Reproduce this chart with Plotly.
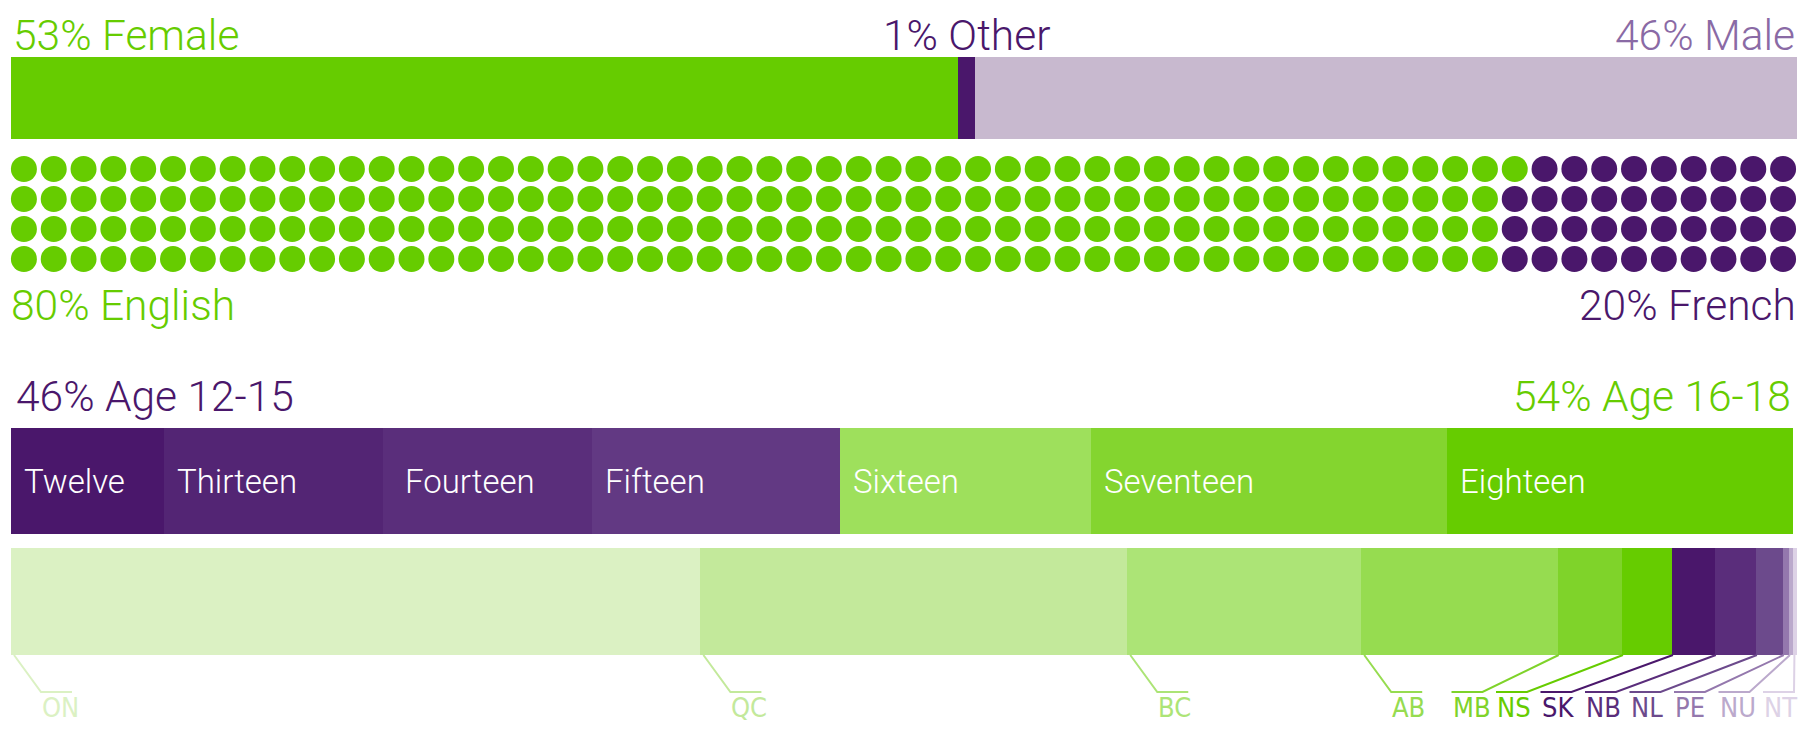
import plotly.graph_objects as go

W, H = 1798, 735

# ---------------- data ----------------
gender_labels = ["Female", "Other", "Male"]
gender_values = [53, 1, 46]
gender_texts = ["53% Female", "1% Other", "46% Male"]

language_labels = ["English", "French"]
language_pct = [80, 20]
language_dots = [201, 39]          # dots as drawn in the waffle
waffle_rows = 4

age_labels = ["Twelve", "Thirteen", "Fourteen", "Fifteen", "Sixteen", "Seventeen", "Eighteen"]
age_values = [8.6, 12.3, 11.7, 13.9, 14.1, 20.0, 19.4]
age_group_texts = ["46% Age 12-15", "54% Age 16-18"]

prov_labels = ["ON", "QC", "BC", "AB", "MB", "NS", "SK", "NB", "NL", "PE", "NU", "NT"]
prov_values = [38.6, 23.9, 13.1, 11.0, 3.6, 2.8, 2.4, 2.3, 1.5, 0.35, 0.25, 0.2]

# ---------------- styles ----------------
GREEN = "#66cc00"
PURPLE = "#4a176b"
gender_colors = [GREEN, PURPLE, "#c8b9cf"]
gender_text_colors = [GREEN, PURPLE, "#8a6aa5"]
language_colors = [GREEN, PURPLE]
age_colors = ["#4a176b", "#532574", "#5a2e7b", "#623983", "#9ee05c", "#84d52f", "#66cc00"]
age_text_pad = [11, 11, 20, 11, 11, 11, 11]
age_group_colors = [PURPLE, GREEN]
prov_colors = ["#dbf1c3", "#c3e99b", "#ace476", "#96dc50", "#7fd32a", "#66cc00",
               "#4a176b", "#5a2d7b", "#6c4a8c", "#9478ad", "#bba9cc", "#ddd2e6"]

MAIN_FONT = "Roboto, 'Open Sans', sans-serif"
COND_FONT = "'DejaVu Sans Condensed', 'Liberation Sans Narrow', Roboto, sans-serif"
COND_SIZE = 27


def fx(px):
    return px / W


def fy(py):
    return 1 - py / H


# pixel boxes of the four panels
G_X, G_Y = (11, 1797), (57, 139)
D_X, D_Y = (9, 1798), (154, 274)
A_X, A_Y = (11, 1793), (428, 534)
P_X, P_Y = (11, 1797), (548, 655)

fig = go.Figure()

# gender stacked bar
for lab, v, c in zip(gender_labels, gender_values, gender_colors):
    fig.add_trace(go.Bar(x=[v], y=[0], orientation="h", name=lab, marker=dict(color=c, line=dict(width=0)),
                         xaxis="x", yaxis="y", hoverinfo="skip"))

# language waffle
n_cols = sum(language_dots) // waffle_rows
idx = 0
for lab, n, c in zip(language_labels, language_dots, language_colors):
    xs, ys = [], []
    for _ in range(n):
        xs.append(idx // waffle_rows)
        ys.append(idx % waffle_rows)
        idx += 1
    fig.add_trace(go.Scatter(x=xs, y=ys, mode="markers", name=lab,
                             marker=dict(color=c, size=26, line=dict(width=0)),
                             xaxis="x2", yaxis="y2", hoverinfo="skip"))

# age stacked bar
for lab, v, c in zip(age_labels, age_values, age_colors):
    fig.add_trace(go.Bar(x=[v], y=[0], orientation="h", name=lab, marker=dict(color=c, line=dict(width=0)),
                         xaxis="x3", yaxis="y3", hoverinfo="skip"))

# province stacked bar
for lab, v, c in zip(prov_labels, prov_values, prov_colors):
    fig.add_trace(go.Bar(x=[v], y=[0], orientation="h", name=lab, marker=dict(color=c, line=dict(width=0)),
                         xaxis="x4", yaxis="y4", hoverinfo="skip"))

ax_common = dict(visible=False, fixedrange=True)
fig.update_layout(
    xaxis=dict(domain=[fx(G_X[0]), fx(G_X[1])], range=[0, sum(gender_values)], anchor="y", **ax_common),
    yaxis=dict(domain=[fy(G_Y[1]), fy(G_Y[0])], range=[-0.5, 0.5], anchor="x", **ax_common),
    xaxis2=dict(domain=[fx(D_X[0]), fx(D_X[1])], range=[-0.5, n_cols - 0.5], anchor="y2", **ax_common),
    yaxis2=dict(domain=[fy(D_Y[1]), fy(D_Y[0])], range=[waffle_rows - 0.5, -0.5], anchor="x2", **ax_common),
    xaxis3=dict(domain=[fx(A_X[0]), fx(A_X[1])], range=[0, sum(age_values)], anchor="y3", **ax_common),
    yaxis3=dict(domain=[fy(A_Y[1]), fy(A_Y[0])], range=[-0.5, 0.5], anchor="x3", **ax_common),
    xaxis4=dict(domain=[fx(P_X[0]), fx(P_X[1])], range=[0, sum(prov_values)], anchor="y4", **ax_common),
    yaxis4=dict(domain=[fy(P_Y[1]), fy(P_Y[0])], range=[-0.5, 0.5], anchor="x4", **ax_common),
)

ann = []


def big_label(text, xref, x, xanchor, baseline_px, color, size=42.5, xshift=0):
    descent = 0.244 * size + 1
    ann.append(dict(text=text, xref=xref, x=x, xanchor=xanchor, xshift=xshift, yref="paper",
                    y=fy(baseline_px + descent), yanchor="bottom", showarrow=False,
                    font=dict(family=MAIN_FONT, size=size, color=color, weight=300)))


# gender labels
big_label(gender_texts[0], "x", 0, "left", 51, gender_text_colors[0])
big_label(gender_texts[1], "x", gender_values[0] + gender_values[1] / 2, "center", 51, gender_text_colors[1])
big_label(gender_texts[2], "x", sum(gender_values), "right", 51, gender_text_colors[2])

# language labels
big_label(f"{language_pct[0]}% {language_labels[0]}", "x2", -0.5, "left", 321, language_colors[0])
big_label(f"{language_pct[1]}% {language_labels[1]}", "x2", n_cols - 0.5, "right", 321, language_colors[1])

# age group labels
big_label(age_group_texts[0], "x3", 0, "left", 412, age_group_colors[0], xshift=3)
big_label(age_group_texts[1], "x3", sum(age_values), "right", 412, age_group_colors[1])

# age segment names
cum = 0
for lab, v, pad in zip(age_labels, age_values, age_text_pad):
    ann.append(dict(text=lab, xref="x3", x=cum, xanchor="left", xshift=pad, yref="y3", y=0, yanchor="middle",
                    showarrow=False, font=dict(family=MAIN_FONT, size=33, color="white", weight=300)))
    cum += v

# province leaders + labels
shapes = []
total = sum(prov_values)
p_w = P_X[1] - P_X[0]
line_top, line_y = P_Y[1], 692
label_w = 31
slot = 44.5
small = [i for i, v in enumerate(prov_values) if v / total * p_w < 100]
cum = 0
for i, (lab, v, c) in enumerate(zip(prov_labels, prov_values, prov_colors)):
    seg_px = P_X[0] + cum / total * p_w
    if i in small:
        k = small.index(i)
        left = P_X[1] - 3 - label_w - (len(small) - 1 - k) * slot
        right = left + label_w
        path = f"M{fx(seg_px + 1)},{fy(line_top)} L{fx(right)},{fy(line_y)} L{fx(left)},{fy(line_y)}"
    else:
        left = seg_px + 30
        right = left + label_w
        path = f"M{fx(seg_px + 3)},{fy(line_top)} L{fx(left)},{fy(line_y)} L{fx(right)},{fy(line_y)}"
    shapes.append(dict(type="path", xref="paper", yref="paper", path=path,
                       line=dict(color=c, width=2), layer="above"))
    ann.append(dict(text=lab, xref="paper", x=fx(left - 1), xanchor="left", yref="paper",
                    y=fy(718 + 0.236 * COND_SIZE + 1), yanchor="bottom", showarrow=False,
                    font=dict(family=COND_FONT, size=COND_SIZE, color=c)))
    cum += v

fig.update_layout(
    annotations=ann, shapes=shapes,
    barmode="stack", bargap=0, showlegend=False,
    width=W, height=H, margin=dict(l=0, r=0, t=0, b=0),
    paper_bgcolor="white", plot_bgcolor="white", template="none",
)

fig.write_html("out.html", config={"displayModeBar": False},
               post_script="document.body.style.margin='0';document.body.style.padding='0';document.body.style.overflow='hidden';")
